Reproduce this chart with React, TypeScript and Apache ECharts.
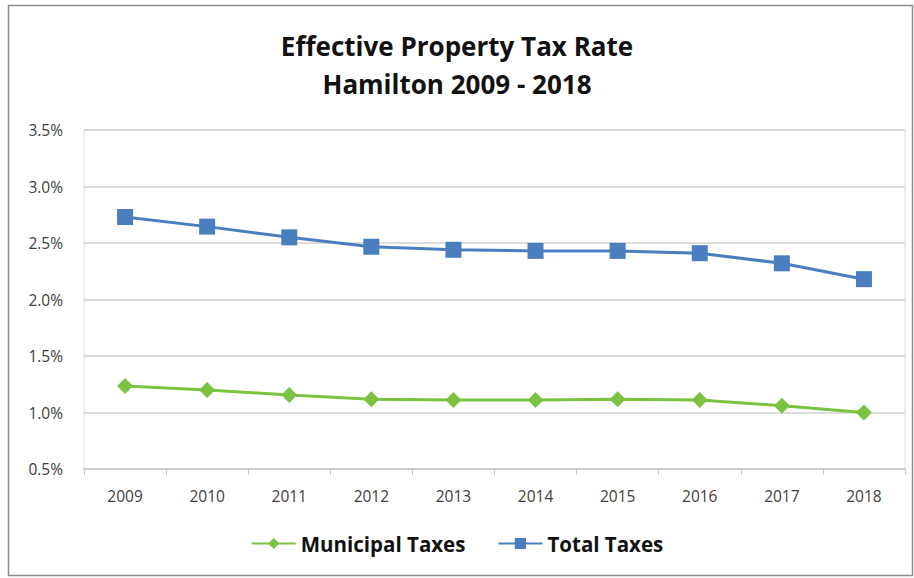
import React, { useEffect, useRef } from "react";
import * as echarts from "echarts";

const years = ["2009", "2010", "2011", "2012", "2013", "2014", "2015", "2016", "2017", "2018"];
const municipalTaxes = [1.235, 1.2, 1.155, 1.117, 1.11, 1.11, 1.117, 1.11, 1.06, 1.0];
const totalTaxes = [2.73, 2.645, 2.55, 2.467, 2.44, 2.43, 2.43, 2.41, 2.32, 2.18];
const titleLines = ["Effective Property Tax Rate", "Hamilton 2009 - 2018"];

export default function App() {
  const ref = useRef<HTMLDivElement>(null);
  useEffect(() => {
    const chart = echarts.init(ref.current!, null, { renderer: "svg" });
    const font = "Open Sans";
    chart.setOption({
      animation: false,
      backgroundColor: "#ffffff",
      title: {
        text: titleLines.join("\n"),
        left: "center",
        top: 22,
        textStyle: {
          fontFamily: font,
          fontWeight: "bold",
          fontSize: 26,
          lineHeight: 38,
          color: "#111111",
        },
      },
      graphic: [
        {
          type: "rect",
          shape: { x: 8.5, y: 5.5, width: 904, height: 570 },
          style: { fill: "none", stroke: "#8c8c8c", lineWidth: 1.5 },
          silent: true,
          z: 100,
        },
      ],
      legend: {
        bottom: 19,
        left: "center",
        itemWidth: 44,
        itemHeight: 14,
        itemGap: 32,
        textStyle: { fontFamily: font, fontWeight: "bold", fontSize: 20.5, color: "#111111" },
        data: ["Municipal Taxes", "Total Taxes"],
      },
      grid: {
        left: 84,
        right: 9,
        top: 130,
        bottom: 109,
        show: true,
        borderColor: "#d6e0f0",
        borderWidth: 1,
      },
      xAxis: {
        type: "category",
        data: years,
        boundaryGap: true,
        axisLine: { lineStyle: { color: "#c8c8c8", width: 1.5 } },
        axisTick: { show: true, length: 6, lineStyle: { color: "#c8c8c8" } },
        axisLabel: { fontFamily: font, fontSize: 15.5, color: "#404040", margin: 19 },
      },
      yAxis: {
        type: "value",
        min: 0.5,
        max: 3.5,
        interval: 0.5,
        axisLine: { show: false },
        axisTick: { show: false },
        splitLine: { lineStyle: { color: "#d0d0d0", width: 1.5 } },
        axisLabel: {
          fontFamily: font,
          fontSize: 15.5,
          color: "#404040",
          margin: 21,
          formatter: (v: number) => v.toFixed(1) + "%",
        },
      },
      series: [
        {
          name: "Municipal Taxes",
          type: "line",
          data: municipalTaxes,
          symbol: "diamond",
          symbolSize: 16,
          color: "#7cc242",
          lineStyle: { width: 3, color: "#7cc242" },
          itemStyle: { color: "#7cc242" },
        },
        {
          name: "Total Taxes",
          type: "line",
          data: totalTaxes,
          symbol: "rect",
          symbolSize: 16,
          color: "#4a7ebf",
          lineStyle: { width: 3, color: "#4a7ebf" },
          itemStyle: { color: "#4a7ebf" },
        },
      ],
    });
    return () => chart.dispose();
  }, []);
  return <div ref={ref} style={{ width: 914, height: 578, position: "absolute", left: 0, top: 0 }} />;
}
